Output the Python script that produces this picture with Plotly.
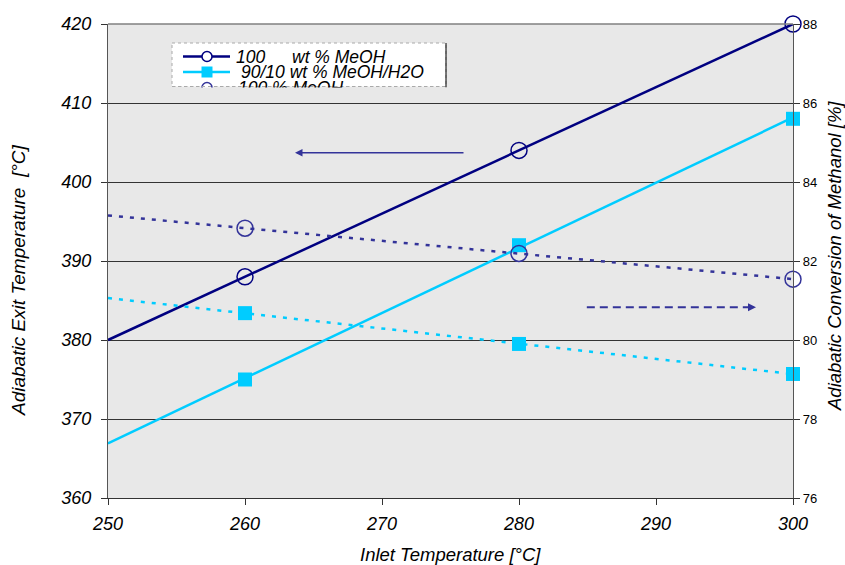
import numpy as np
import plotly.graph_objects as go

# ---- data ----
inlet_temp = [260, 280, 300]
exit_temp_meoh = [388, 404, 420]
exit_temp_mix = [375, 392, 408]
conv_meoh = [82.83, 82.19, 81.54]
conv_mix = [80.68, 79.90, 79.14]
x_range = [250, 300]
x_ticks = [250, 260, 270, 280, 290, 300]
left_ticks = [360, 370, 380, 390, 400, 410, 420]
right_ticks = [76, 78, 80, 82, 84, 86, 88]
legend_texts = [("100", "wt % MeOH"), ("90/10 wt % MeOH/H2O",), ("100 % MeOH",)]

NAVY = "#000080"
NAVY2 = "#333399"
CYAN = "#00CCFF"
BG = "#e8e8e8"
FONT = "Liberation Sans, Arial, sans-serif"

W, H = 845, 565
L, R, T, B = 108, 52, 24, 67
PW, PH = W - L - R, H - T - B


def fx(sx):
    return (sx - L) / PW


def fy(sy):
    return (H - B - sy) / PH


def trend(x, y):
    c = np.polyfit(x, y, 1)
    xs = np.array(x_range, dtype=float)
    return xs, np.polyval(c, xs)


fig = go.Figure()

# trendlines
for y, color, dash, axis in [
    (exit_temp_meoh, NAVY, "solid", "y"),
    (exit_temp_mix, CYAN, "solid", "y"),
    (conv_meoh, NAVY2, "4px,7px", "y2"),
    (conv_mix, CYAN, "4px,7px", "y2"),
]:
    xs, ys = trend(inlet_temp, y)
    fig.add_trace(go.Scatter(x=xs, y=ys, mode="lines", yaxis=axis,
                             line=dict(color=color, width=2.5, dash=dash),
                             showlegend=False, hoverinfo="skip"))

# markers
fig.add_trace(go.Scatter(x=inlet_temp, y=exit_temp_meoh, mode="markers", showlegend=False, cliponaxis=False,
                         marker=dict(symbol="circle-open", size=16, color=NAVY, line=dict(width=1.5, color=NAVY))))
fig.add_trace(go.Scatter(x=inlet_temp, y=exit_temp_mix, mode="markers", showlegend=False, cliponaxis=False,
                         marker=dict(symbol="square", size=14, color=CYAN)))
fig.add_trace(go.Scatter(x=inlet_temp, y=conv_meoh, mode="markers", yaxis="y2", showlegend=False, cliponaxis=False,
                         marker=dict(symbol="circle-open", size=16, color=NAVY2, line=dict(width=1.5, color=NAVY2))))
fig.add_trace(go.Scatter(x=inlet_temp, y=conv_mix, mode="markers", yaxis="y2", showlegend=False, cliponaxis=False,
                         marker=dict(symbol="square", size=14, color=CYAN)))

# ---- manual legend (pixel-placed box) ----
fig.add_shape(type="rect", xref="paper", yref="paper", x0=fx(172), x1=fx(446), y0=fy(43), y1=fy(86.5),
              fillcolor="white", line=dict(color="#aaaaaa", width=1, dash="dot"), layer="above")
fig.add_shape(type="line", xref="paper", yref="paper", x0=fx(446), x1=fx(446), y0=fy(43), y1=fy(87.5),
              line=dict(color="#222222", width=1.2), layer="above")
rows_y = [56.5, 72, 87.6]
row_colors = [NAVY, CYAN, NAVY2]
for i, yy in enumerate(rows_y):
    if i < 2:
        fig.add_shape(type="line", xref="paper", yref="paper", x0=fx(183), x1=fx(230), y0=fy(yy), y1=fy(yy),
                      line=dict(color=row_colors[i], width=2.5), layer="above")
    if i == 1:
        fig.add_shape(type="rect", xref="paper", yref="paper", x0=fx(201.5), x1=fx(212.5),
                      y0=fy(yy - 5.5), y1=fy(yy + 5.5), fillcolor=CYAN, line=dict(width=0), layer="above")
    else:
        fig.add_shape(type="circle", xref="paper", yref="paper", x0=fx(202), x1=fx(212),
                      y0=fy(yy - 5), y1=fy(yy + 5), fillcolor="white",
                      line=dict(color=row_colors[i], width=1.5), layer="above")

LFONT = dict(size=17.5, style="italic", color="black", family=FONT)
fig.add_annotation(xref="paper", yref="paper", x=fx(234), y=fy(rows_y[0]), xanchor="left", yanchor="middle",
                   text=legend_texts[0][0], showarrow=False, font=LFONT)
fig.add_annotation(xref="paper", yref="paper", x=fx(290), y=fy(rows_y[0]), xanchor="left", yanchor="middle",
                   text=legend_texts[0][1], showarrow=False, font=LFONT)
fig.add_annotation(xref="paper", yref="paper", x=fx(239), y=fy(rows_y[1]), xanchor="left", yanchor="middle",
                   text=legend_texts[1][0], showarrow=False, font=LFONT)
fig.add_annotation(xref="paper", yref="paper", x=fx(236), y=fy(rows_y[2]), xanchor="left", yanchor="middle",
                   text=legend_texts[2][0], showarrow=False, font=LFONT)
# clip the third, half-hidden legend row
fig.add_annotation(xref="paper", yref="paper", x=fx(170), y=fy(86.5), xanchor="left", yanchor="top",
                   text=" ", showarrow=False, width=282, height=14, bgcolor=BG, borderpad=0,
                   font=dict(size=6))
fig.add_shape(type="line", xref="paper", yref="paper", x0=fx(172), x1=fx(446), y0=fy(86.5), y1=fy(86.5),
              line=dict(color="#aaaaaa", width=1, dash="dot"), layer="above")

# ---- arrows ----
fig.add_annotation(x=263.65, y=403.7, xref="x", yref="y", ax=170, ay=0,
                   text="", showarrow=True, arrowhead=2, arrowsize=1, arrowwidth=1.5, arrowcolor=NAVY2)
fig.add_shape(type="line", x0=284.95, x1=296.8, y0=384.15, y1=384.15, xref="x", yref="y",
              line=dict(color=NAVY2, width=2, dash="8px,5px"))
fig.add_annotation(x=297.3, y=384.15, xref="x", yref="y", ax=-8, ay=0,
                   text="", showarrow=True, arrowhead=2, arrowsize=1, arrowwidth=1.6, arrowcolor=NAVY2)

# top frame line
fig.add_shape(type="line", xref="paper", yref="paper", x0=0, x1=1, y0=1, y1=1,
              line=dict(color="#808080", width=1.5, dash="solid"), layer="above")

# ---- axis titles ----
TFONT = dict(size=18.5, style="italic", color="black", family=FONT)
fig.add_annotation(xref="paper", yref="paper", x=fx(450), y=fy(554), text="Inlet Temperature [°C]",
                   showarrow=False, font=TFONT, xanchor="center", yanchor="middle")
fig.add_annotation(xref="paper", yref="paper", x=fx(18), y=fy(280),
                   text="Adiabatic Exit Temperature\u00a0\u00a0[°C]",
                   showarrow=False, font=dict(TFONT, size=19), textangle=-90, xanchor="center", yanchor="middle")
fig.add_annotation(xref="paper", yref="paper", x=fx(834), y=fy(256),
                   text="Adiabatic Conversion of Methanol [%]",
                   showarrow=False, font=dict(TFONT, size=18.5), textangle=-90, xanchor="center", yanchor="middle")

fig.update_layout(
    width=W, height=H,
    margin=dict(l=L, r=R, t=T, b=B, autoexpand=False),
    paper_bgcolor="white",
    plot_bgcolor=BG,
    font=dict(family=FONT, color="black"),
    showlegend=False,
    hovermode=False,
    xaxis=dict(range=x_range, tickvals=x_ticks, ticktext=[f"<i>{v}</i>" for v in x_ticks],
               showgrid=False, zeroline=False, automargin=False,
               showline=True, linecolor="#333", linewidth=1.2,
               ticks="outside", ticklen=6, tickcolor="#333", ticklabelstandoff=3,
               tickfont=dict(size=18)),
    yaxis=dict(range=[360, 420], tickvals=left_ticks, ticktext=[f"<i>{v}</i>" for v in left_ticks],
               showgrid=True, gridcolor="#333", gridwidth=1, automargin=False,
               zeroline=False, showline=True, linecolor="#555", linewidth=1.2,
               ticks="outside", ticklen=6, tickcolor="#333", ticklabelstandoff=6,
               tickfont=dict(size=18)),
    yaxis2=dict(range=[76, 88], tickvals=right_ticks, overlaying="y", side="right", showgrid=False,
                zeroline=False, showline=True, linecolor="#555", linewidth=1.2, automargin=False,
                ticks="outside", ticklen=6, tickcolor="#333",
                tickfont=dict(size=13)),
)
fig.write_html("out.html", config={"displayModeBar": False},
               post_script="document.body.style.margin='0px';document.body.style.overflow='hidden';")
